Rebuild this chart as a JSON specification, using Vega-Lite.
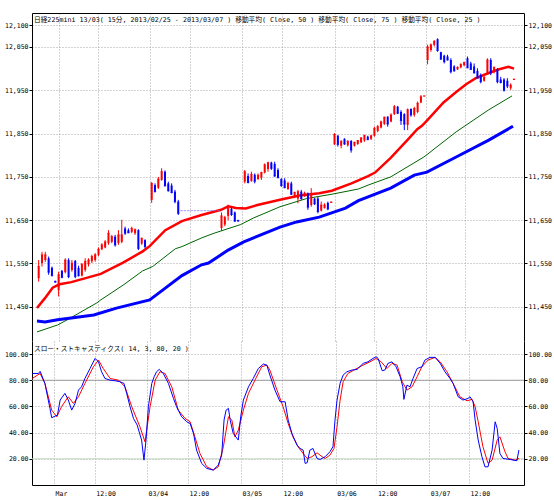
{
"$schema": "https://vega.github.io/schema/vega-lite/v6.json",
"background": "white",
"padding": {"left": 4, "top": 13, "right": 2, "bottom": 3},
"spacing": 0,
"config": {
  "view": {"stroke": null},
  "concat": {"spacing": 0},
  "axis": {"labelFont": "DejaVu Sans Mono, monospace", "labelFontSize": 6.5, "labelColor": "black", "domainColor": "black", "tickColor": "black", "gridColor": "#a8a4a8", "gridDash": [1, 2], "title": null, "labelFlush": false, "labelOverlap": false}
},
"datasets": {
  "levels": [{"v": 80, "kind": "overbought"}, {"v": 20, "kind": "oversold"}],
  "candles": [
    {"t":0,"o":11516,"h":11558,"l":11508,"c":11543},
    {"t":1,"o":11551,"h":11577,"l":11543,"c":11570},
    {"t":2,"o":11558,"h":11577,"l":11554,"c":11570},
    {"t":3,"o":11562,"h":11566,"l":11524,"c":11530},
    {"t":4,"o":11540,"h":11543,"l":11520,"c":11522},
    {"t":5,"o":11510,"h":11510,"l":11506,"c":11507},
    {"t":6,"o":11489,"h":11531,"l":11474,"c":11524},
    {"t":7,"o":11533,"h":11535,"l":11516,"c":11518},
    {"t":8,"o":11530,"h":11562,"l":11527,"c":11558},
    {"t":9,"o":11558,"h":11562,"l":11516,"c":11520},
    {"t":10,"o":11535,"h":11558,"l":11531,"c":11551},
    {"t":11,"o":11556,"h":11558,"l":11516,"c":11520},
    {"t":12,"o":11540,"h":11545,"l":11520,"c":11522},
    {"t":13,"o":11522,"h":11551,"l":11520,"c":11548},
    {"t":14,"o":11535,"h":11562,"l":11531,"c":11555},
    {"t":15,"o":11548,"h":11562,"l":11543,"c":11558},
    {"t":16,"o":11555,"h":11570,"l":11551,"c":11566},
    {"t":17,"o":11558,"h":11574,"l":11554,"c":11570},
    {"t":18,"o":11570,"h":11587,"l":11567,"c":11583},
    {"t":19,"o":11583,"h":11597,"l":11581,"c":11593},
    {"t":20,"o":11587,"h":11604,"l":11585,"c":11600},
    {"t":21,"o":11597,"h":11627,"l":11593,"c":11620},
    {"t":22,"o":11600,"h":11616,"l":11597,"c":11612},
    {"t":23,"o":11612,"h":11616,"l":11589,"c":11593},
    {"t":24,"o":11597,"h":11627,"l":11593,"c":11616},
    {"t":25,"o":11600,"h":11651,"l":11597,"c":11616},
    {"t":26,"o":11631,"h":11635,"l":11616,"c":11620},
    {"t":27,"o":11627,"h":11631,"l":11620,"c":11621},
    {"t":28,"o":11623,"h":11635,"l":11620,"c":11631},
    {"t":29,"o":11620,"h":11631,"l":11616,"c":11628},
    {"t":30,"o":11627,"h":11629,"l":11581,"c":11585},
    {"t":31,"o":11596,"h":11610,"l":11593,"c":11608},
    {"t":32,"o":11604,"h":11606,"l":11585,"c":11589},
    {"t":34,"o":11697,"h":11738,"l":11690,"c":11735},
    {"t":35,"o":11731,"h":11735,"l":11714,"c":11716},
    {"t":36,"o":11725,"h":11750,"l":11722,"c":11745},
    {"t":37,"o":11743,"h":11770,"l":11741,"c":11762},
    {"t":38,"o":11762,"h":11765,"l":11727,"c":11730},
    {"t":39,"o":11735,"h":11739,"l":11716,"c":11718},
    {"t":40,"o":11730,"h":11735,"l":11712,"c":11714},
    {"t":41,"o":11716,"h":11720,"l":11689,"c":11693},
    {"t":42,"o":11693,"h":11697,"l":11662,"c":11666},
    {"t":43,"o":11672,"h":11672,"l":11672,"c":11672},
    {"t":44,"o":11672,"h":11672,"l":11672,"c":11672},
    {"t":45,"o":11672,"h":11672,"l":11672,"c":11672},
    {"t":46,"o":11672,"h":11672,"l":11672,"c":11672},
    {"t":47,"o":11672,"h":11672,"l":11672,"c":11672},
    {"t":48,"o":11672,"h":11672,"l":11672,"c":11672},
    {"t":49,"o":11672,"h":11672,"l":11672,"c":11672},
    {"t":50,"o":11672,"h":11672,"l":11672,"c":11672},
    {"t":51,"o":11672,"h":11672,"l":11672,"c":11672},
    {"t":52,"o":11672,"h":11672,"l":11672,"c":11672},
    {"t":53,"o":11672,"h":11672,"l":11672,"c":11672},
    {"t":54,"o":11672,"h":11672,"l":11672,"c":11672},
    {"t":55,"o":11632,"h":11668,"l":11625,"c":11660},
    {"t":56,"o":11640,"h":11660,"l":11636,"c":11656},
    {"t":57,"o":11660,"h":11686,"l":11650,"c":11677},
    {"t":58,"o":11676,"h":11680,"l":11660,"c":11663},
    {"t":59,"o":11668,"h":11670,"l":11646,"c":11648},
    {"t":60,"o":11650,"h":11651,"l":11647,"c":11648},
    {"t":62,"o":11739,"h":11766,"l":11735,"c":11762},
    {"t":63,"o":11752,"h":11758,"l":11735,"c":11737},
    {"t":64,"o":11740,"h":11762,"l":11739,"c":11756},
    {"t":65,"o":11755,"h":11758,"l":11735,"c":11740},
    {"t":66,"o":11745,"h":11758,"l":11743,"c":11754},
    {"t":67,"o":11748,"h":11762,"l":11743,"c":11760},
    {"t":68,"o":11760,"h":11781,"l":11758,"c":11778},
    {"t":69,"o":11768,"h":11785,"l":11762,"c":11783},
    {"t":70,"o":11783,"h":11785,"l":11766,"c":11770},
    {"t":71,"o":11780,"h":11785,"l":11750,"c":11752},
    {"t":72,"o":11766,"h":11770,"l":11747,"c":11748},
    {"t":73,"o":11745,"h":11747,"l":11727,"c":11730},
    {"t":74,"o":11742,"h":11747,"l":11724,"c":11725},
    {"t":75,"o":11722,"h":11739,"l":11720,"c":11735},
    {"t":76,"o":11735,"h":11739,"l":11708,"c":11710},
    {"t":77,"o":11704,"h":11716,"l":11701,"c":11714},
    {"t":78,"o":11700,"h":11720,"l":11689,"c":11716},
    {"t":79,"o":11716,"h":11720,"l":11697,"c":11700},
    {"t":80,"o":11705,"h":11716,"l":11704,"c":11712},
    {"t":81,"o":11712,"h":11714,"l":11674,"c":11680},
    {"t":82,"o":11685,"h":11724,"l":11681,"c":11712},
    {"t":83,"o":11700,"h":11701,"l":11685,"c":11688},
    {"t":84,"o":11700,"h":11704,"l":11666,"c":11670},
    {"t":85,"o":11672,"h":11693,"l":11670,"c":11685},
    {"t":86,"o":11678,"h":11689,"l":11677,"c":11685},
    {"t":87,"o":11690,"h":11693,"l":11673,"c":11676},
    {"t":88,"o":11690,"h":11693,"l":11690,"c":11692},
    {"t":89,"o":11825,"h":11851,"l":11824,"c":11848},
    {"t":90,"o":11845,"h":11847,"l":11820,"c":11825},
    {"t":91,"o":11822,"h":11835,"l":11816,"c":11832},
    {"t":92,"o":11838,"h":11839,"l":11824,"c":11826},
    {"t":93,"o":11823,"h":11835,"l":11820,"c":11832},
    {"t":94,"o":11833,"h":11835,"l":11806,"c":11812},
    {"t":95,"o":11822,"h":11831,"l":11820,"c":11830},
    {"t":96,"o":11826,"h":11835,"l":11824,"c":11834},
    {"t":97,"o":11830,"h":11842,"l":11828,"c":11840},
    {"t":98,"o":11834,"h":11847,"l":11831,"c":11846},
    {"t":99,"o":11843,"h":11845,"l":11835,"c":11836},
    {"t":100,"o":11838,"h":11847,"l":11835,"c":11845},
    {"t":101,"o":11845,"h":11866,"l":11843,"c":11862},
    {"t":102,"o":11856,"h":11870,"l":11853,"c":11866},
    {"t":103,"o":11864,"h":11880,"l":11862,"c":11877},
    {"t":104,"o":11872,"h":11889,"l":11870,"c":11888},
    {"t":105,"o":11889,"h":11890,"l":11866,"c":11872},
    {"t":106,"o":11878,"h":11897,"l":11876,"c":11893},
    {"t":107,"o":11895,"h":11916,"l":11893,"c":11912},
    {"t":108,"o":11912,"h":11914,"l":11895,"c":11897},
    {"t":109,"o":11900,"h":11904,"l":11870,"c":11880},
    {"t":110,"o":11895,"h":11897,"l":11858,"c":11872},
    {"t":111,"o":11870,"h":11908,"l":11858,"c":11905},
    {"t":112,"o":11907,"h":11908,"l":11889,"c":11893},
    {"t":113,"o":11893,"h":11912,"l":11889,"c":11908},
    {"t":114,"o":11900,"h":11924,"l":11897,"c":11920},
    {"t":115,"o":11922,"h":11939,"l":11920,"c":11935},
    {"t":116,"o":11936,"h":11938,"l":11936,"c":11937},
    {"t":117,"o":12020,"h":12055,"l":12010,"c":12050},
    {"t":118,"o":12043,"h":12058,"l":12039,"c":12055},
    {"t":119,"o":12055,"h":12066,"l":12051,"c":12063},
    {"t":120,"o":12068,"h":12070,"l":12039,"c":12042},
    {"t":121,"o":12038,"h":12039,"l":12020,"c":12022},
    {"t":122,"o":12030,"h":12032,"l":12012,"c":12016},
    {"t":123,"o":12028,"h":12032,"l":12019,"c":12020},
    {"t":124,"o":12020,"h":12024,"l":11989,"c":11993},
    {"t":125,"o":12005,"h":12008,"l":11993,"c":11995},
    {"t":126,"o":11998,"h":12005,"l":11997,"c":12003},
    {"t":127,"o":12003,"h":12012,"l":12001,"c":12010},
    {"t":128,"o":12008,"h":12016,"l":12005,"c":12014},
    {"t":129,"o":12024,"h":12028,"l":12001,"c":12002},
    {"t":130,"o":12012,"h":12016,"l":11997,"c":11998},
    {"t":131,"o":12005,"h":12012,"l":11989,"c":11990},
    {"t":132,"o":11995,"h":12001,"l":11978,"c":11978},
    {"t":133,"o":11985,"h":11989,"l":11966,"c":11970},
    {"t":134,"o":11972,"h":11985,"l":11970,"c":11980},
    {"t":135,"o":11990,"h":12024,"l":11989,"c":12020},
    {"t":136,"o":12020,"h":12024,"l":11985,"c":11990},
    {"t":137,"o":11993,"h":12005,"l":11989,"c":12003},
    {"t":138,"o":11998,"h":12001,"l":11966,"c":11970},
    {"t":139,"o":11975,"h":11981,"l":11966,"c":11968},
    {"t":140,"o":11975,"h":11978,"l":11947,"c":11950},
    {"t":141,"o":11972,"h":11978,"l":11955,"c":11960},
    {"t":142,"o":11955,"h":11966,"l":11951,"c":11962},
    {"t":143,"o":11974,"h":11976,"l":11974,"c":11976}
  ],
  "ma25": [
    {"t":-0.5,"v":11447},{"t":1.9,"v":11470},{"t":4.2,"v":11494},{"t":6.3,"v":11502},{"t":9.8,"v":11507},
    {"t":13.6,"v":11515},{"t":18.7,"v":11526},{"t":25.4,"v":11552},{"t":31.3,"v":11578},{"t":33.4,"v":11590},
    {"t":38.1,"v":11627},{"t":43.1,"v":11648},{"t":49.0,"v":11662},{"t":54.9,"v":11674},{"t":57.0,"v":11682},
    {"t":59.3,"v":11678},{"t":62.3,"v":11677},{"t":65.8,"v":11685},{"t":72.6,"v":11697},{"t":78.5,"v":11707},
    {"t":84.4,"v":11712},{"t":88.2,"v":11718},{"t":94.1,"v":11735},{"t":99.1,"v":11752},{"t":101.2,"v":11760},
    {"t":105.9,"v":11794},{"t":110.9,"v":11835},{"t":113.9,"v":11860},{"t":115.3,"v":11868},{"t":116.8,"v":11880},
    {"t":121.8,"v":11922},{"t":125.6,"v":11946},{"t":128.6,"v":11964},{"t":131.5,"v":11978},{"t":135.4,"v":11990},
    {"t":138.3,"v":11998},{"t":141.3,"v":12004},{"t":143.0,"v":12000}
  ],
  "ma50": [
    {"t":-0.5,"v":11392},{"t":5.7,"v":11408},{"t":8.6,"v":11420},{"t":17.5,"v":11459},{"t":18.7,"v":11466},
    {"t":25.4,"v":11500},{"t":31.3,"v":11533},{"t":34.3,"v":11543},{"t":41.1,"v":11584},{"t":43.1,"v":11589},
    {"t":49.0,"v":11609},{"t":52.8,"v":11620},{"t":60.8,"v":11640},{"t":64.6,"v":11655},{"t":72.6,"v":11681},
    {"t":80.6,"v":11700},{"t":88.2,"v":11710},{"t":96.2,"v":11722},{"t":99.1,"v":11731},{"t":105.9,"v":11750},
    {"t":115.9,"v":11796},{"t":125.6,"v":11854},{"t":135.4,"v":11905},{"t":142.4,"v":11937}
  ],
  "ma75": [
    {"t":-0.5,"v":11417},{"t":1.9,"v":11415},{"t":5.7,"v":11420},{"t":9.8,"v":11424},{"t":16.6,"v":11431},
    {"t":23.4,"v":11447},{"t":33.4,"v":11466},{"t":37.2,"v":11488},{"t":43.1,"v":11522},{"t":49.0,"v":11547},
    {"t":51.1,"v":11551},{"t":57.0,"v":11581},{"t":61.7,"v":11600},{"t":72.6,"v":11634},{"t":77.6,"v":11646},
    {"t":84.4,"v":11657},{"t":92.3,"v":11678},{"t":96.2,"v":11695},{"t":99.1,"v":11704},{"t":105.9,"v":11724},
    {"t":113.0,"v":11754},{"t":116.8,"v":11761},{"t":125.6,"v":11796},{"t":135.4,"v":11835},{"t":142.7,"v":11867}
  ],
  "k": [
    {"t":-0.4,"v":85.2},{"t":1.4,"v":85.2},{"t":1.9,"v":86.8},{"t":3.3,"v":77.6},{"t":4.8,"v":58.5},{"t":5.3,"v":51.4},
    {"t":6.3,"v":52.6},{"t":7.0,"v":53.4},{"t":7.8,"v":64.9},{"t":9.2,"v":70.0},{"t":10.2,"v":64.9},{"t":11.2,"v":57.2},
    {"t":12.2,"v":62.3},{"t":13.2,"v":72.5},{"t":14.1,"v":75.0},{"t":15.1,"v":81.4},{"t":16.6,"v":89.0},{"t":18.1,"v":96.7},
    {"t":19.1,"v":94.1},{"t":20.0,"v":86.5},{"t":21.0,"v":81.4},{"t":22.5,"v":80.1},{"t":24.0,"v":79.6},{"t":25.4,"v":78.9},
    {"t":26.6,"v":77.6},{"t":27.4,"v":70.0},{"t":28.4,"v":59.8},{"t":29.4,"v":50.9},{"t":30.5,"v":45.8},{"t":31.8,"v":34.3},
    {"t":32.5,"v":19.0},{"t":33.1,"v":34.3},{"t":33.8,"v":59.8},{"t":34.8,"v":77.6},{"t":35.5,"v":82.7},{"t":36.2,"v":86.5},
    {"t":37.0,"v":88.3},{"t":38.2,"v":85.2},{"t":39.7,"v":77.6},{"t":41.2,"v":66.1},{"t":42.1,"v":59.8},{"t":43.6,"v":52.1},
    {"t":45.1,"v":48.3},{"t":46.1,"v":47.0},{"t":47.1,"v":39.4},{"t":48.0,"v":26.7},{"t":49.5,"v":16.5},{"t":51.0,"v":12.7},
    {"t":52.9,"v":11.4},{"t":54.4,"v":15.2},{"t":55.4,"v":22.8},{"t":56.1,"v":49.6},{"t":56.7,"v":57.2},{"t":57.4,"v":58.5},
    {"t":57.9,"v":49.6},{"t":58.8,"v":39.4},{"t":60.3,"v":34.3},{"t":61.0,"v":52.1},{"t":61.8,"v":64.9},{"t":63.3,"v":75.0},
    {"t":64.7,"v":81.4},{"t":66.2,"v":89.0},{"t":67.7,"v":92.4},{"t":68.7,"v":91.6},{"t":69.6,"v":84.0},{"t":71.1,"v":72.5},
    {"t":72.6,"v":63.6},{"t":74.1,"v":63.6},{"t":75.0,"v":49.6},{"t":76.1,"v":39.4},{"t":77.6,"v":30.5},{"t":78.5,"v":27.9},
    {"t":79.4,"v":26.7},{"t":80.0,"v":16.5},{"t":80.6,"v":17.0},{"t":81.4,"v":26.7},{"t":82.3,"v":27.9},{"t":83.5,"v":20.3},
    {"t":84.4,"v":19.5},{"t":85.9,"v":21.6},{"t":87.3,"v":25.4},{"t":88.2,"v":29.2},{"t":88.8,"v":49.6},{"t":89.4,"v":64.9},
    {"t":90.3,"v":77.6},{"t":91.2,"v":84.0},{"t":92.3,"v":86.5},{"t":93.8,"v":87.8},{"t":95.3,"v":88.3},{"t":97.1,"v":92.9},
    {"t":98.5,"v":94.1},{"t":100.0,"v":96.7},{"t":100.9,"v":98.0},{"t":101.5,"v":96.7},{"t":102.7,"v":87.3},{"t":103.5,"v":87.8},
    {"t":104.4,"v":92.9},{"t":105.6,"v":94.1},{"t":106.8,"v":90.3},{"t":108.0,"v":82.7},{"t":108.8,"v":75.0},{"t":109.1,"v":65.4},
    {"t":110.0,"v":76.3},{"t":110.9,"v":75.0},{"t":111.8,"v":81.4},{"t":113.0,"v":89.0},{"t":114.4,"v":90.3},{"t":115.3,"v":95.4},
    {"t":116.8,"v":97.5},{"t":118.3,"v":97.5},{"t":119.8,"v":92.9},{"t":121.2,"v":86.5},{"t":122.7,"v":81.4},{"t":123.6,"v":77.6},
    {"t":125.1,"v":67.4},{"t":126.5,"v":64.9},{"t":128.0,"v":66.1},{"t":128.6,"v":67.4},{"t":129.5,"v":63.6},{"t":130.1,"v":49.6},
    {"t":131.0,"v":34.3},{"t":132.1,"v":21.6},{"t":133.0,"v":13.9},{"t":133.9,"v":13.9},{"t":135.1,"v":26.7},{"t":136.0,"v":48.3},
    {"t":136.6,"v":43.2},{"t":137.4,"v":24.1},{"t":138.3,"v":20.3},{"t":140.4,"v":19.5},{"t":142.4,"v":18.5},{"t":143.0,"v":26.7}
  ],
  "d": [
    {"t":-0.4,"v":81.4},{"t":1.9,"v":85.2},{"t":3.3,"v":77.6},{"t":5.3,"v":57.2},{"t":6.8,"v":52.1},{"t":8.2,"v":59.8},
    {"t":10.2,"v":67.4},{"t":11.7,"v":62.3},{"t":13.2,"v":67.4},{"t":15.1,"v":77.6},{"t":17.6,"v":90.3},{"t":19.1,"v":95.4},
    {"t":20.5,"v":89.0},{"t":22.5,"v":81.4},{"t":25.0,"v":80.1},{"t":26.9,"v":75.0},{"t":28.9,"v":59.8},{"t":31.3,"v":44.5},
    {"t":32.8,"v":33.0},{"t":34.3,"v":59.8},{"t":35.8,"v":80.1},{"t":37.2,"v":86.5},{"t":38.7,"v":85.2},{"t":40.7,"v":75.0},
    {"t":42.6,"v":57.2},{"t":44.6,"v":50.9},{"t":46.1,"v":48.3},{"t":47.5,"v":36.8},{"t":49.0,"v":24.1},{"t":51.0,"v":13.9},
    {"t":52.9,"v":11.4},{"t":54.4,"v":13.9},{"t":55.9,"v":29.2},{"t":57.4,"v":52.1},{"t":58.4,"v":49.6},{"t":59.3,"v":36.8},
    {"t":60.3,"v":41.9},{"t":61.8,"v":57.2},{"t":63.3,"v":70.0},{"t":65.2,"v":80.1},{"t":67.2,"v":90.3},{"t":68.7,"v":91.6},
    {"t":69.6,"v":87.8},{"t":71.7,"v":72.5},{"t":73.5,"v":59.8},{"t":75.0,"v":47.0},{"t":76.4,"v":36.8},{"t":77.9,"v":29.2},
    {"t":79.4,"v":24.1},{"t":80.6,"v":20.3},{"t":82.0,"v":21.6},{"t":83.5,"v":24.6},{"t":85.0,"v":21.6},{"t":85.9,"v":20.3},
    {"t":87.3,"v":22.8},{"t":88.5,"v":27.9},{"t":89.4,"v":44.5},{"t":90.3,"v":64.9},{"t":91.2,"v":78.9},{"t":92.6,"v":85.2},
    {"t":94.7,"v":88.3},{"t":97.1,"v":91.6},{"t":99.1,"v":94.1},{"t":100.9,"v":96.7},{"t":102.4,"v":94.1},{"t":104.1,"v":89.0},
    {"t":105.6,"v":92.9},{"t":107.1,"v":91.6},{"t":108.6,"v":78.9},{"t":110.0,"v":72.5},{"t":111.5,"v":75.0},{"t":113.0,"v":82.7},
    {"t":114.4,"v":90.3},{"t":116.2,"v":95.4},{"t":118.3,"v":97.5},{"t":119.8,"v":94.1},{"t":121.8,"v":86.5},{"t":123.6,"v":77.6},
    {"t":125.6,"v":67.4},{"t":127.7,"v":64.3},{"t":129.2,"v":65.4},{"t":130.1,"v":59.8},{"t":131.0,"v":48.3},{"t":132.4,"v":29.2},
    {"t":133.9,"v":16.5},{"t":135.1,"v":19.0},{"t":136.6,"v":34.3},{"t":137.4,"v":36.8},{"t":138.9,"v":25.4},{"t":139.8,"v":20.3},
    {"t":141.9,"v":19.0},{"t":143.0,"v":20.3}
  ]
},
"vconcat": [
  {
    "width": 492,
    "height": 328,
    "title": {"text": "日経225mini 13/03( 15分, 2013/02/25 - 2013/03/07 )  移動平均( Close, 50 )  移動平均( Close, 75 )  移動平均( Close, 25 )", "anchor": "start", "frame": "group", "orient": "top", "offset": -11, "dx": 2, "font": "DejaVu Sans Mono, Noto Sans CJK JP, sans-serif", "fontSize": 6.7, "fontWeight": "normal", "color": "black"},
    "resolve": {"scale": {"y": "independent"}},
    "layer": [
      {
        "layer": [
          {
            "data": {"name": "ma50"},
            "mark": {"type": "line", "color": "#006400", "strokeWidth": 1},
            "encoding": {
              "x": {"field": "t", "type": "quantitative", "scale": {"domain": [-0.5, 144.5], "nice": false, "zero": false},
                    "axis": {"orient": "top", "values": [6, 18, 33.4, 45.5, 61.1, 73.2, 89, 101, 116.6, 128.3], "labels": false, "ticks": false, "grid": true, "domain": true}},
              "y": {"field": "v", "type": "quantitative", "scale": {"domain": [11371, 12128.5], "nice": false, "zero": false},
                    "axis": {"orient": "left", "values": [11450, 11550, 11650, 11750, 11850, 11950, 12050, 12100], "format": ",d", "tickSize": 3, "labelPadding": 1, "grid": true, "labelOverlap": false}}
            }
          },
          {
            "data": {"name": "ma75"},
            "mark": {"type": "line", "color": "#0000ff", "strokeWidth": 3},
            "encoding": {
              "x": {"field": "t", "type": "quantitative"},
              "y": {"field": "v", "type": "quantitative"}
            }
          },
          {
            "data": {"name": "ma25"},
            "mark": {"type": "line", "color": "#ff0000", "strokeWidth": 2.5},
            "encoding": {
              "x": {"field": "t", "type": "quantitative"},
              "y": {"field": "v", "type": "quantitative"}
            }
          },
          {
            "data": {"name": "candles"},
            "mark": {"type": "rule", "strokeWidth": 1},
            "encoding": {
              "x": {"field": "t", "type": "quantitative"},
              "y": {"field": "l", "type": "quantitative"},
              "y2": {"field": "h"},
              "color": {"condition": [{"test": "datum.c > datum.o", "value": "#ff0000"}, {"test": "datum.c == datum.o", "value": "#7070ff"}], "value": "#0000ff"}
            }
          },
          {
            "data": {"name": "candles"},
            "mark": {"type": "bar", "width": 2},
            "encoding": {
              "x": {"field": "t", "type": "quantitative"},
              "y": {"field": "o", "type": "quantitative"},
              "y2": {"field": "c"},
              "color": {"condition": [{"test": "datum.c > datum.o", "value": "#ff0000"}, {"test": "datum.c == datum.o", "value": "#7070ff"}], "value": "#0000ff"}
            }
          },
          {
            "data": {"name": "candles"},
            "mark": {"type": "tick", "orient": "horizontal", "size": 2.4, "thickness": 1},
            "encoding": {
              "x": {"field": "t", "type": "quantitative"},
              "y": {"field": "c", "type": "quantitative"},
              "color": {"condition": [{"test": "datum.c > datum.o", "value": "#ff0000"}, {"test": "datum.c == datum.o", "value": "#7070ff"}], "value": "#0000ff"}
            }
          }
        ]
      },
      {
        "data": {"name": "ma25"},
        "mark": {"type": "point", "opacity": 0},
        "encoding": {
          "x": {"field": "t", "type": "quantitative", "scale": {"domain": [-0.5, 144.5], "nice": false, "zero": false}},
          "y": {"field": "v", "type": "quantitative", "scale": {"domain": [11371, 12128.5], "nice": false, "zero": false},
                "axis": {"orient": "right", "values": [11450, 11550, 11650, 11750, 11850, 11950, 12050, 12100], "format": ",d", "tickSize": 3, "labelPadding": 1, "grid": false, "labelOverlap": false}}
        }
      }
    ]
  },
  {
    "width": 492,
    "height": 144,
    "title": {"text": "スロー・ストキャスティクス( 14, 3, 80, 20 )", "anchor": "start", "frame": "group", "orient": "top", "offset": -12, "dx": 2, "font": "DejaVu Sans Mono, Noto Sans CJK JP, sans-serif", "fontSize": 6.7, "fontWeight": "normal", "color": "black"},
    "resolve": {"scale": {"y": "independent"}},
    "layer": [
      {
        "data": {"name": "k"},
        "mark": {"type": "point", "opacity": 0},
        "encoding": {
          "x": {"field": "t", "type": "quantitative", "scale": {"domain": [-0.5, 144.5], "nice": false, "zero": false},
                "axis": {"orient": "bottom", "values": [6, 18, 33.4, 45.5, 61.1, 73.2, 89, 101, 116.6, 128.3],
                         "labelExpr": "['Mar','12:00','03/04','12:00','03/05','12:00','03/06','12:00','03/07','12:00'][indexof([6, 18, 33.4, 45.5, 61.1, 73.2, 89, 101, 116.6, 128.3], datum.value)]",
                         "labelAlign": "left", "labelBaseline": "top", "labelPadding": 5, "labelOffset": 1, "tickSize": 0, "grid": true, "domain": true, "labelOverlap": false}},
          "y": {"field": "v", "type": "quantitative", "scale": {"domain": [0, 110], "nice": false, "zero": false},
                "axis": {"orient": "left", "values": [20, 40, 60, 80, 100], "format": ".2f", "tickSize": 3, "labelPadding": 1, "grid": true, "labelOverlap": false}}
        }
      },
      {
        "layer": [
          {
            "data": {"name": "levels"},
            "mark": {"type": "rule", "strokeWidth": 1},
            "encoding": {
              "y": {"field": "v", "type": "quantitative", "scale": {"domain": [0, 110], "nice": false, "zero": false}, "axis": null},
              "color": {"condition": {"test": "datum.v == 80", "value": "#9a9a9a"}, "value": "#c2d6c2"}
            }
          },
          {
            "data": {"name": "d"},
            "mark": {"type": "line", "color": "#ff0000", "strokeWidth": 1},
            "encoding": {
              "x": {"field": "t", "type": "quantitative", "scale": {"domain": [-0.5, 144.5], "nice": false, "zero": false}},
              "y": {"field": "v", "type": "quantitative"}
            }
          },
          {
            "data": {"name": "k"},
            "mark": {"type": "line", "color": "#0000ff", "strokeWidth": 1},
            "encoding": {
              "x": {"field": "t", "type": "quantitative"},
              "y": {"field": "v", "type": "quantitative"}
            }
          }
        ]
      },
      {
        "data": {"name": "k"},
        "mark": {"type": "point", "opacity": 0},
        "encoding": {
          "x": {"field": "t", "type": "quantitative", "scale": {"domain": [-0.5, 144.5], "nice": false, "zero": false}},
          "y": {"field": "v", "type": "quantitative", "scale": {"domain": [0, 110], "nice": false, "zero": false},
                "axis": {"orient": "right", "values": [20, 40, 60, 80, 100], "format": ".2f", "tickSize": 3, "labelPadding": 1, "grid": false, "labelOverlap": false}}
        }
      }
    ]
  }
]
}
